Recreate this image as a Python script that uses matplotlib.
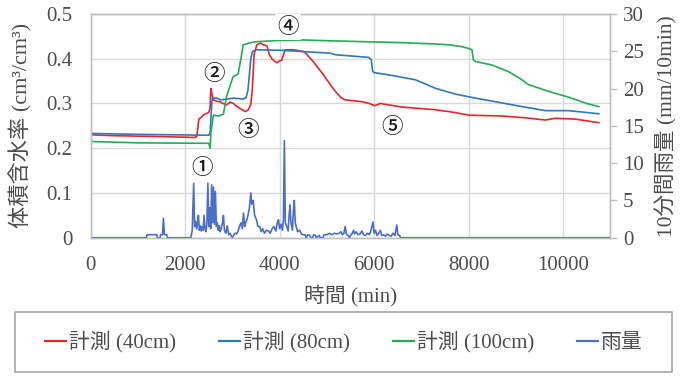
import matplotlib.pyplot as plt
from matplotlib.lines import Line2D
from matplotlib.patches import Rectangle

plt.rcParams['font.family'] = ['Liberation Serif', 'Noto Sans CJK JP']
plt.rcParams['axes.unicode_minus'] = False

# 体積含水率 (cm3/cm3)
T40 = [0, 500, 1500, 2200, 2246, 2290, 2400, 2500, 2528, 2542, 2570, 2600, 2670,
       2740, 2800, 2880, 2950, 3020, 3100, 3160, 3270, 3330, 3390, 3420, 3460,
       3517, 3590, 3660, 3730, 3780, 3835, 3900, 3940, 4000, 4047, 4090, 4117,
       4294, 4400, 4505, 4560, 4611, 4700, 4788, 4900, 5000, 5100, 5212, 5300,
       5388, 5741, 5900, 6010, 6130, 6589, 7295, 7700, 8001, 8708, 9200, 9626,
       9838, 10262, 10757]
W40 = [0.230, 0.228, 0.226, 0.224, 0.226, 0.265, 0.275, 0.280, 0.290, 0.336,
       0.318, 0.308, 0.305, 0.304, 0.300, 0.297, 0.303, 0.300, 0.293, 0.289,
       0.282, 0.285, 0.298, 0.330, 0.410, 0.431, 0.435, 0.431, 0.429, 0.410,
       0.400, 0.394, 0.391, 0.395, 0.397, 0.412, 0.420, 0.420, 0.418, 0.416,
       0.412, 0.405, 0.395, 0.383, 0.368, 0.353, 0.338, 0.323, 0.313, 0.308,
       0.304, 0.300, 0.295, 0.300, 0.292, 0.286, 0.280, 0.274, 0.272, 0.268,
       0.263, 0.267, 0.265, 0.257]

T80 = [0, 1000, 2500, 2528, 2563, 2577, 2670, 2760, 2900, 3022, 3220, 3290,
       3330, 3390, 3425, 3500, 4010, 4500, 5070, 5176, 5883, 5940, 5968, 6000,
       6307, 6872, 7100, 7295, 7719, 8143, 8566, 9131, 9626, 10120, 10757]
W80 = [0.233, 0.231, 0.229, 0.235, 0.300, 0.312, 0.312, 0.308, 0.310, 0.312,
       0.310, 0.313, 0.330, 0.400, 0.416, 0.420, 0.419, 0.416, 0.4125, 0.409,
       0.403, 0.398, 0.372, 0.369, 0.364, 0.353, 0.343, 0.334, 0.321, 0.312,
       0.304, 0.293, 0.284, 0.284, 0.277]

T100 = [0, 1000, 2500, 2528, 2545, 2598, 2700, 2810, 2874, 2945, 3015, 3121,
        3180, 3227, 3350, 3500, 4000, 4500, 5100, 6589, 7295, 7600, 7860, 8000,
        8072, 8100, 8143, 8495, 8848, 9100, 9272, 9696, 10120, 10500, 10757]
W100 = [0.215, 0.212, 0.211, 0.200, 0.235, 0.274, 0.272, 0.276, 0.315, 0.338,
        0.360, 0.366, 0.400, 0.431, 0.435, 0.438, 0.441, 0.442, 0.440, 0.436,
        0.433, 0.431, 0.427, 0.423, 0.420, 0.398, 0.394, 0.386, 0.371, 0.355,
        0.342, 0.327, 0.314, 0.300, 0.293]

# 10分間雨量 (mm/10min)
RAIN_T = [0, 1180, 1190, 1400, 1410, 1470, 1480, 1520, 1540, 1560, 1610, 1620,
          2120, 2150, 2180, 2200, 2220, 2240, 2260, 2280, 2300, 2320, 2340,
          2360, 2380, 2400, 2420, 2440, 2460, 2480, 2500, 2520, 2540, 2560,
          2580, 2600, 2620, 2640, 2660, 2680, 2700, 2720, 2740, 2760, 2790,
          2810, 2830, 2860, 2890, 2920, 2950, 2980, 3000, 3030, 3060, 3090,
          3120, 3150, 3180, 3210, 3234, 3260, 3280, 3305, 3330, 3360, 3390,
          3410, 3440, 3470, 3510, 3540, 3580, 3610, 3640, 3680, 3720, 3763,
          3800, 3840, 3880, 3920, 3950, 3975, 4000, 4030, 4060, 4080, 4100,
          4120, 4150, 4180, 4200, 4220, 4240, 4270, 4290, 4310, 4330, 4350,
          4380, 4425, 4460, 4500, 4540, 4560, 4600, 4640, 4660, 4700, 4720,
          4760, 4780, 4840, 4860, 4920, 4940, 5000, 5060, 5100, 5160, 5200,
          5260, 5300, 5330, 5360, 5388, 5410, 5450, 5480, 5500, 5540, 5565,
          5590, 5620, 5660, 5700, 5740, 5780, 5820, 5860, 5900, 5930, 5975,
          6000, 6030, 6060, 6100, 6130, 6160, 6200, 6240, 6280, 6320, 6360,
          6400, 6440, 6480, 6500, 6540, 6560, 11000]
RAIN_MM = [0, 0, 0.4, 0.4, 0, 0, 0.4, 0.4, 2.6, 0.4, 0.4, 0,
           0, 1.0, 7.3, 1.5, 2.2, 1.2, 1.8, 3.0, 1.0, 1.6, 0.9,
           1.5, 1.0, 3.0, 1.2, 0.8, 2.0, 7.3, 1.5, 4.0, 1.2, 7.1,
           2.0, 6.8, 1.8, 6.2, 1.5, 2.0, 1.0, 1.6, 0.8, 1.2, 2.0,
           3.0, 1.0, 0.6, 1.6, 0.4, 0.6, 0.2, 0, 0.4, 0.6, 0.5,
           0.9, 1.5, 2.0, 1.2, 3.3, 1.5, 2.0, 2.4, 3.0, 4.0, 6.0,
           4.5, 5.0, 3.0, 2.4, 1.5, 1.5, 0.8, 1.2, 0.6, 1.0, 0.9,
           0.6, 1.2, 1.5, 0.9, 2.0, 2.4, 1.2, 1.8, 1.0, 2.5, 13.0,
           2.0, 1.5, 0.9, 3.0, 4.4, 2.0, 1.0, 3.5, 5.0, 2.0, 1.5,
           0.8, 1.0, 0.5, 0.4, 0.4, 0, 0.4, 0.3, 0, 0, 0.4,
           0.3, 0, 0.3, 0, 0, 0.4, 0.4, 0.6, 0.4, 0.6, 0.5,
           0.6, 0.8, 0.4, 0.6, 1.5, 0.5, 0.3, 0, 0.3, 0.6, 1.0,
           0.5, 0.8, 0.4, 0.5, 0.9, 0.4, 0.3, 0.6, 0.4, 0.9, 2.1,
           0.6, 1.0, 0.3, 0.6, 1.0, 0.3, 0.4, 0.2, 0.5, 0.3, 0.2,
           0.6, 0.3, 1.7, 0.4, 0.3, 0, 0]

SERIES = ['計測 (40cm)', '計測 (80cm)', '計測 (100cm)', '雨量']
COLORS = ['#e8252b', '#2e78bd', '#22ae55', '#4a6fc8']

# 図中の注記番号 (時間, 体積含水率)
MARKS = ['①', '②', '③', '④', '⑤']
MARK_X = [2352, 2602, 3322, 4180, 6377]
MARK_Y = [0.156, 0.365, 0.241, 0.471, 0.248]

TXT = '#4d4d4d'
GRID = '#d9d9d9'

fig = plt.figure(figsize=(6.85, 3.76), dpi=100)
ax = fig.add_axes([90.7 / 685, 1 - 237.7 / 376, 519.6 / 685, 223.7 / 376])
ax2 = ax.twinx()

ax.plot(T40, W40, color=COLORS[0], lw=1.2)
ax.plot(T80, W80, color=COLORS[1], lw=1.2)
ax.plot(T100, W100, color=COLORS[2], lw=1.2)
ax2.plot(RAIN_T, RAIN_MM, color=COLORS[3], lw=1.2)

ax.set_xlim(0, 11000)
ax.set_ylim(0, 0.5)
ax2.set_ylim(0, 30)
ax.set_xticks([0, 2000, 4000, 6000, 8000, 10000])
ax.set_yticks([0, 0.1, 0.2, 0.3, 0.4, 0.5])
ax.set_yticklabels(['0', '0.1', '0.2', '0.3', '0.4', '0.5'])
ax2.set_yticks([0, 5, 10, 15, 20, 25, 30])

ax.grid(True, color=GRID, lw=1.0)
ax.set_axisbelow(True)
for a in (ax, ax2):
    for s in a.spines.values():
        s.set_color('#bfbfbf')
        s.set_linewidth(1.0)
ax.tick_params(axis='both', length=0, labelsize=15, colors=TXT)
ax.tick_params(axis='x', pad=13)
ax.tick_params(axis='y', pad=13)
ax2.tick_params(axis='y', length=5, width=1.0, color='#bfbfbf',
                labelsize=15, labelcolor=TXT, pad=4)

ax.set_xlabel('時間 (min)', fontsize=15, color=TXT, labelpad=8)
ax.set_ylabel('体積含水率 (cm³/cm³)', fontsize=16, color=TXT, labelpad=10)
ax2.set_ylabel('10分間雨量 (mm/10min)', fontsize=15.5, color=TXT, labelpad=8)

for m, x, y in zip(MARKS, MARK_X, MARK_Y):
    ax2.text(x, y * 60, m, ha='center', va='center', fontsize=15.5,
             family=['Noto Sans CJK JP', 'DejaVu Sans'], color='#1a1a1a',
             fontweight='medium',
             bbox=dict(facecolor='white', edgecolor='none', pad=1.5), zorder=5)

# 凡例（枠は別に描く）
fig.patches.append(Rectangle((15 / 685, 1 - 372 / 376), 657 / 685, 60 / 376,
                             transform=fig.transFigure, facecolor='white',
                             edgecolor='#a6a6a6', lw=1.2))
handles = [Line2D([], [], color=c, lw=1.6) for c in COLORS]
fig.legend(handles, SERIES, loc='center left', ncol=4, mode='expand',
           bbox_to_anchor=(45 / 685, 1 - 342 / 376, 598 / 685, 0.0),
           frameon=False, fontsize=15, handlelength=1.0, handletextpad=0.15,
           borderaxespad=0, borderpad=0, labelcolor=TXT)

fig.savefig('out.png', dpi=100)
